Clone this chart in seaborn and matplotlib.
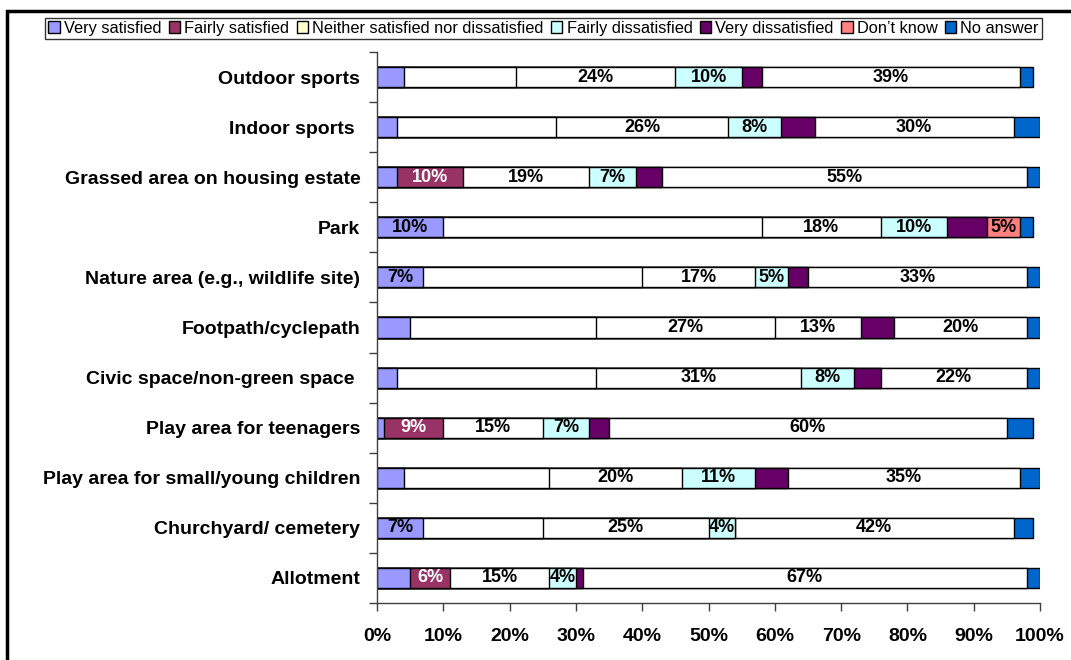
import numpy as np
import pandas as pd
import matplotlib
matplotlib.use("Agg")
import matplotlib.pyplot as plt
import seaborn as sns
from matplotlib.patches import Patch
from matplotlib.lines import Line2D

# categories, top to bottom
categories = ['Outdoor sports', 'Indoor sports ', 'Grassed area on housing estate', 'Park',
              'Nature area (e.g., wildlife site)', 'Footpath/cyclepath', 'Civic space/non-green space ',
              'Play area for teenagers', 'Play area for small/young children',
              'Churchyard/ cemetery', 'Allotment']

# percentages
very_satisfied = [4, 3, 3, 10, 7, 5, 3, 1, 4, 7, 5]
fairly_satisfied = [17, 24, 10, 48, 33, 28, 30, 9, 22, 18, 6]
neither = [24, 26, 19, 18, 17, 27, 31, 15, 20, 25, 15]
fairly_dissatisfied = [10, 8, 7, 10, 5, 13, 8, 7, 11, 4, 4]
very_dissatisfied = [3, 5, 4, 6, 3, 5, 4, 3, 5, 0, 1]
dont_know = [39, 30, 55, 5, 33, 20, 22, 60, 35, 42, 67]
no_answer = [2, 4, 2, 2, 2, 2, 2, 4, 3, 3, 2]

series_names = ['Very satisfied', 'Fairly satisfied', 'Neither satisfied nor dissatisfied',
                'Fairly dissatisfied', 'Very dissatisfied', 'Don\u2019t know', 'No answer']
series = [very_satisfied, fairly_satisfied, neither, fairly_dissatisfied,
          very_dissatisfied, dont_know, no_answer]
colours = ['#9999FF', '#993366', '#FFFFCC', '#CCFFFF', '#660066', '#FF8080', '#0066CC']

# bars where the original chart kept the series colour (elsewhere it is white)
fs_coloured = ['Grassed area on housing estate', 'Play area for teenagers', 'Allotment']
fd_white = ['Footpath/cyclepath']
dk_coloured = ['Park']

sns.set_theme(style="white")
plt.rcParams['font.family'] = ['Liberation Sans', 'DejaVu Sans']
plt.rcParams['text.color'] = 'black'
plt.rcParams['xtick.labelcolor'] = 'black'
plt.rcParams['ytick.labelcolor'] = 'black'

fig = plt.figure(figsize=(10.71, 6.6), dpi=100)
ax = fig.add_axes([0.352, 0.0864, 0.6191, 0.8348])

def seg_colour(s, cat):
    if s == 1:
        return colours[1] if cat in fs_coloured else 'white'
    if s == 2:
        return 'white'
    if s == 3:
        return 'white' if cat in fd_white else colours[3]
    if s == 5:
        return colours[5] if cat in dk_coloured else 'white'
    return colours[s]

df = pd.DataFrame({'cat': categories})
vals = np.array(series, dtype=float)
cum = np.cumsum(vals, axis=0)

# draw cumulative bars from longest to shortest so each segment shows
for s in range(len(series) - 1, -1, -1):
    df['x'] = cum[s]
    pal = {c: seg_colour(s, c) for c in categories}
    sns.barplot(data=df, x='x', y='cat', hue='cat', palette=pal, order=categories,
                hue_order=categories, orient='h', width=0.4, legend=False,
                edgecolor='black', linewidth=1.0, saturation=1, ax=ax)

# data labels
for i, c in enumerate(categories):
    for s in range(len(series)):
        v = vals[s, i]
        if v <= 0:
            continue
        show = False
        if s == 0:
            show = v >= 7
        elif s == 1:
            show = c in fs_coloured
        elif s in (2, 3, 5):
            show = True
        if not show:
            continue
        xc = cum[s, i] - v / 2
        tc = 'white' if seg_colour(s, c) == colours[1] else 'black'
        ax.text(xc, i, f'{int(v)}%', ha='center', va='center', fontsize=13,
                fontweight='bold', color=tc)

ax.set_xlim(0, 100)
ax.set_ylim(len(categories) - 0.5, -0.5)
ax.set_xticks(np.arange(0, 101, 10))
ax.set_xticklabels([f'{t}%' for t in range(0, 101, 10)], fontsize=14, fontweight='bold')
ax.set_yticks(range(len(categories)))
ax.set_yticklabels(categories, fontsize=14, fontweight='bold')
ax.set_yticks(np.arange(-0.5, len(categories), 1), minor=True)
ax.tick_params(axis='y', which='major', length=0, pad=12)
ax.tick_params(axis='y', which='minor', left=True, length=6, width=1, color='#404040', direction='out')
ax.tick_params(axis='x', which='major', bottom=True, length=6, width=1, color='#404040', direction='out', pad=12)
ax.set_xlabel('')
ax.set_ylabel('')
for side in ['top', 'right']:
    ax.spines[side].set_visible(False)
for side in ['left', 'bottom']:
    ax.spines[side].set_color('#404040')
    ax.spines[side].set_linewidth(1)

handles = [Patch(facecolor=col, edgecolor='black', linewidth=1) for col in colours]
leg = fig.legend(handles, series_names, loc='center', bbox_to_anchor=(0.5075, 0.957), ncol=7,
                 fontsize=11.8, frameon=True, fancybox=False, edgecolor='black',
                 handlelength=0.7, handleheight=0.7, handletextpad=0.25, columnspacing=0.45,
                 borderpad=0.2, borderaxespad=0)
leg.get_frame().set_linewidth(1)

# outer chart border (left and top edges)
fig.add_artist(Line2D([0.0065, 0.0065, 1.0], [0.0, 0.983, 0.983], transform=fig.transFigure,
                      color='black', linewidth=2.5, solid_joinstyle='miter'))

fig.savefig('out.png', dpi=100)
